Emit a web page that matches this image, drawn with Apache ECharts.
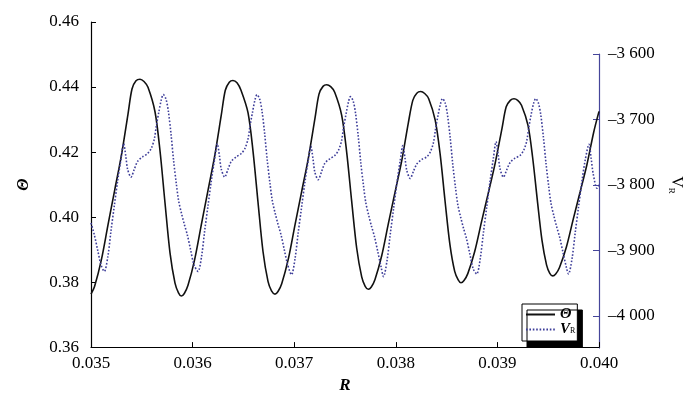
<!DOCTYPE html>
<html>
<head>
<meta charset="utf-8">
<script src="https://cdn.jsdelivr.net/npm/echarts@6/dist/echarts.min.js"></script>
<style>
  html, body { margin: 0; padding: 0; background: #fff; }
  #chart { width: 700px; height: 399px; }
</style>
</head>
<body>
<div id="chart"></div>
<script>
// Θ curve (left axis), R positions and values
var thetaR = [
  0.0350000, 0.0350364, 0.0351024, 0.0351673, 0.0352333, 0.0352992, 0.0353642, 0.0354035, 0.0354429, 0.0354823,
  0.0355217, 0.0355610, 0.0356299, 0.0356791, 0.0357283, 0.0357776, 0.0358268, 0.0358612, 0.0358888,
  0.0359183, 0.0359547, 0.0360207, 0.0360856, 0.0361516, 0.0362175, 0.0362825, 0.0363219, 0.0363612, 0.0363976,
  0.0364370, 0.0364764, 0.0365453, 0.0365945, 0.0366437, 0.0366929, 0.0367421, 0.0367766, 0.0368110,
  0.0368405, 0.0368770, 0.0369429, 0.0370079, 0.0370738, 0.0371398, 0.0372047, 0.0372441, 0.0372835, 0.0373199,
  0.0373593, 0.0373986, 0.0374675, 0.0375167, 0.0375659, 0.0376152, 0.0376644, 0.0376988, 0.0377293,
  0.0377589, 0.0377953, 0.0378612, 0.0379262, 0.0379921, 0.0380581, 0.0381230, 0.0381673, 0.0382067, 0.0382451,
  0.0382844, 0.0383238, 0.0383878, 0.0384370, 0.0384842, 0.0385325, 0.0385797, 0.0386142, 0.0386417,
  0.0386713, 0.0387087, 0.0387766, 0.0388435, 0.0389114, 0.0389783, 0.0390453, 0.0390866, 0.0391270, 0.0391634,
  0.0391998, 0.0392372, 0.0393012, 0.0393465, 0.0393927, 0.0394390, 0.0394842, 0.0395157, 0.0395443,
  0.0395738, 0.0396112, 0.0396791, 0.0397460, 0.0398139, 0.0398809, 0.0399478, 0.0400000
];
var thetaVal = [
  0.3763, 0.3788, 0.3869, 0.3976, 0.4083, 0.4190, 0.4317, 0.4394, 0.4419, 0.4424,
  0.4417, 0.4399, 0.4324, 0.4204, 0.4044, 0.3890, 0.3797, 0.3767, 0.3757,
  0.3765, 0.3790, 0.3870, 0.3976, 0.4082, 0.4188, 0.4314, 0.4390, 0.4415, 0.4420,
  0.4413, 0.4390, 0.4321, 0.4203, 0.4046, 0.3894, 0.3802, 0.3773, 0.3763,
  0.3771, 0.3795, 0.3872, 0.3976, 0.4079, 0.4182, 0.4304, 0.4378, 0.4402, 0.4407,
  0.4401, 0.4384, 0.4313, 0.4199, 0.4048, 0.3904, 0.3816, 0.3787, 0.3778,
  0.3785, 0.3808, 0.3881, 0.3979, 0.4076, 0.4173, 0.4289, 0.4359, 0.4381, 0.4386,
  0.4380, 0.4364, 0.4298, 0.4192, 0.4051, 0.3916, 0.3833, 0.3807, 0.3798,
  0.3805, 0.3826, 0.3894, 0.3985, 0.4075, 0.4166, 0.4273, 0.4339, 0.4359, 0.4364,
  0.4359, 0.4344, 0.4282, 0.4184, 0.4053, 0.3928, 0.3852, 0.3827, 0.3819,
  0.3825, 0.3845, 0.3908, 0.3993, 0.4077, 0.4161, 0.4261, 0.4325
];

// V_R curve (right axis)
var vrR = [
  0.0350000, 0.0350325, 0.0350650, 0.0350984,
  0.0351309, 0.0351653, 0.0351968, 0.0352293, 0.0352618, 0.0352953, 0.0353209, 0.0353425, 0.0353602, 0.0353937,
  0.0354262, 0.0354587, 0.0355079, 0.0355571, 0.0355935, 0.0356230, 0.0356427, 0.0356673, 0.0356919, 0.0357116,
  0.0357382, 0.0357608, 0.0357874, 0.0358130, 0.0358396, 0.0358622, 0.0358917, 0.0359183, 0.0359478, 0.0359803, 0.0360138,
  0.0360531, 0.0360875, 0.0361190, 0.0361515, 0.0361840, 0.0362175, 0.0362431, 0.0362647, 0.0362824, 0.0363159,
  0.0363484, 0.0363809, 0.0364301, 0.0364793, 0.0365157, 0.0365452, 0.0365649, 0.0365895, 0.0366141, 0.0366338,
  0.0366604, 0.0366830, 0.0367096, 0.0367352, 0.0367618, 0.0367844, 0.0368139, 0.0368405, 0.0368700, 0.0369025, 0.0369360,
  0.0369734, 0.0370078, 0.0370393, 0.0370718, 0.0371043, 0.0371378, 0.0371634, 0.0371850, 0.0372027, 0.0372362,
  0.0372687, 0.0373012, 0.0373504, 0.0373996, 0.0374360, 0.0374655, 0.0374852, 0.0375098, 0.0375344, 0.0375541,
  0.0375807, 0.0376033, 0.0376299, 0.0376555, 0.0376821, 0.0377047, 0.0377342, 0.0377608, 0.0377903, 0.0378228, 0.0378563,
  0.0378789, 0.0379133, 0.0379448, 0.0379773, 0.0380098, 0.0380433, 0.0380689, 0.0380905, 0.0381082, 0.0381417,
  0.0381742, 0.0382067, 0.0382559, 0.0383051, 0.0383415, 0.0383710, 0.0383907, 0.0384153, 0.0384399, 0.0384596,
  0.0384862, 0.0385088, 0.0385354, 0.0385610, 0.0385876, 0.0386102, 0.0386397, 0.0386663, 0.0386958, 0.0387283, 0.0387618,
  0.0387963, 0.0388307, 0.0388622, 0.0388947, 0.0389272, 0.0389607, 0.0389863, 0.0390079, 0.0390256, 0.0390591,
  0.0390916, 0.0391241, 0.0391733, 0.0392225, 0.0392589, 0.0392884, 0.0393081, 0.0393327, 0.0393573, 0.0393770,
  0.0394036, 0.0394262, 0.0394528, 0.0394784, 0.0395050, 0.0395276, 0.0395571, 0.0395837, 0.0396132, 0.0396457, 0.0396792,
  0.0396998, 0.0397342, 0.0397657, 0.0397982, 0.0398307, 0.0398642, 0.0399016, 0.0399232, 0.0399429, 0.0399803, 0.0400000
];
var vrVal = [
  -3858, -3876, -3899, -3922,
  -3932, -3910, -3870, -3832, -3794, -3760, -3737, -3756, -3776, -3788,
  -3776, -3764, -3757, -3752, -3744, -3730, -3710, -3689, -3670, -3662,
  -3669, -3687, -3722, -3763, -3798, -3824, -3844, -3860, -3876, -3899, -3922,
  -3932, -3910, -3870, -3832, -3794, -3760, -3737, -3756, -3776, -3788,
  -3776, -3764, -3757, -3752, -3744, -3730, -3710, -3689, -3670, -3662,
  -3669, -3687, -3722, -3763, -3798, -3824, -3844, -3860, -3876, -3899, -3922,
  -3937, -3913, -3873, -3835, -3797, -3763, -3741, -3760, -3780, -3792,
  -3780, -3767, -3760, -3755, -3747, -3733, -3713, -3692, -3673, -3665,
  -3672, -3690, -3725, -3766, -3801, -3827, -3847, -3863, -3879, -3902, -3926,
  -3940, -3916, -3876, -3837, -3798, -3763, -3740, -3759, -3778, -3790,
  -3779, -3768, -3761, -3757, -3749, -3735, -3715, -3694, -3676, -3668,
  -3675, -3693, -3728, -3769, -3804, -3830, -3850, -3866, -3882, -3905, -3928,
  -3936, -3913, -3873, -3834, -3795, -3759, -3734, -3754, -3775, -3788,
  -3777, -3766, -3759, -3755, -3747, -3733, -3713, -3692, -3675, -3668,
  -3675, -3692, -3727, -3767, -3802, -3828, -3848, -3864, -3880, -3903, -3926,
  -3936, -3913, -3873, -3834, -3796, -3762, -3738, -3760, -3783, -3805, -3800
];

var rTicks = [0.035, 0.036, 0.037, 0.038, 0.039, 0.040];
var thetaTicks = [0.36, 0.38, 0.40, 0.42, 0.44, 0.46];
var vrTicks = [-4000, -3900, -3800, -3700, -3600];

var serif = '"Liberation Serif", "DejaVu Serif", serif';
var axisBlue = '#45459a';
var curveBlue = '#3d3d99';

var chart = echarts.init(document.getElementById('chart'));

function vrLabel(v) {
  var s = String(Math.abs(v));
  return '\u2013' + s.slice(0, s.length - 3) + ' ' + s.slice(-3);
}

chart.setOption({
  animation: false,
  backgroundColor: '#fff',
  grid: [
    { left: 91, right: 101, top: 22, bottom: 51 },
    { left: 91, right: 101, top: 54, bottom: 51 }
  ],
  legend: {
    left: 522, top: 304,
    orient: 'vertical',
    itemWidth: 29, itemHeight: 8, itemGap: 0,
    padding: [3, 2, 4, 3],
    backgroundColor: '#fff',
    borderColor: '#000', borderWidth: 1,
    shadowColor: '#000', shadowBlur: 0, shadowOffsetX: 5, shadowOffsetY: 6,
    itemStyle: { opacity: 0 },
    data: ['theta', 'vr'],
    formatter: function (name) {
      return name === 'theta' ? '{t|\u0398}' : '{t|V}{s|R}';
    },
    textStyle: {
      lineHeight: 11,
      rich: {
        t: { fontFamily: serif, fontStyle: 'italic', fontWeight: 'bold', fontSize: 15, color: '#000', lineHeight: 11 },
        s: { fontFamily: serif, fontSize: 8, color: '#000', verticalAlign: 'bottom', lineHeight: 6 }
      }
    }
  },
  xAxis: [
    {
      type: 'value', gridIndex: 0,
      min: rTicks[0], max: rTicks[rTicks.length - 1], interval: 0.001,
      name: 'R', nameLocation: 'middle', nameGap: 28,
      nameTextStyle: { fontFamily: serif, fontStyle: 'italic', fontWeight: 'bold', fontSize: 17, color: '#000' },
      axisLine: { lineStyle: { color: '#000', width: 1.2 } },
      axisTick: { inside: true, length: 5, lineStyle: { color: '#000' } },
      splitLine: { show: false },
      axisLabel: {
        margin: 8, fontFamily: serif, fontSize: 17, color: '#000',
        formatter: function (v) { return v.toFixed(3); }
      }
    },
    {
      type: 'value', gridIndex: 1, show: false,
      min: rTicks[0], max: rTicks[rTicks.length - 1]
    }
  ],
  yAxis: [
    {
      type: 'value', gridIndex: 0,
      min: thetaTicks[0], max: thetaTicks[thetaTicks.length - 1], interval: 0.02,
      name: '\u0398', nameLocation: 'middle', nameGap: 59, nameRotate: 90,
      nameTextStyle: { fontFamily: serif, fontStyle: 'italic', fontWeight: 'bold', fontSize: 16, color: '#000' },
      axisLine: { show: true, lineStyle: { color: '#000', width: 1.2 } },
      axisTick: { show: true, inside: true, length: 5, lineStyle: { color: '#000' } },
      splitLine: { show: false },
      axisLabel: {
        margin: 12, fontFamily: serif, fontSize: 17, color: '#000',
        formatter: function (v) { return v.toFixed(2); }
      }
    },
    {
      type: 'value', gridIndex: 1, position: 'right',
      min: -4049, max: -3600,
      name: '{v|V}{s|R}', nameLocation: 'middle', nameGap: 68, nameRotate: -90,
      nameTextStyle: {
        padding: [0, 32, 0, 0],
        rich: {
          v: { fontFamily: serif, fontSize: 16, color: '#000', lineHeight: 18 },
          s: { fontFamily: serif, fontSize: 9, color: '#000', verticalAlign: 'bottom', lineHeight: 9 }
        }
      },
      axisLine: { show: true, lineStyle: { color: axisBlue, width: 1.2 } },
      axisTick: { show: true, inside: true, length: 6, customValues: vrTicks, lineStyle: { color: axisBlue } },
      splitLine: { show: false },
      axisLabel: {
        margin: 9, fontFamily: serif, fontSize: 17, color: '#000',
        customValues: vrTicks,
        formatter: vrLabel
      }
    }
  ],
  series: [
    {
      name: 'theta', type: 'line', xAxisIndex: 0, yAxisIndex: 0,
      data: thetaR.map(function (r, i) { return [r, thetaVal[i]]; }),
      showSymbol: false, symbol: 'none', smooth: 0.3,
      lineStyle: { color: '#111', width: 1.6 },
      itemStyle: { color: '#111' }
    },
    {
      name: 'vr', type: 'line', xAxisIndex: 1, yAxisIndex: 1,
      data: vrR.map(function (r, i) { return [r, vrVal[i]]; }),
      showSymbol: false, symbol: 'none', smooth: 0.3,
      lineStyle: { color: curveBlue, width: 1.6, type: [1.6, 1.8] },
      itemStyle: { color: curveBlue }
    }
  ]
});
</script>
</body>
</html>
